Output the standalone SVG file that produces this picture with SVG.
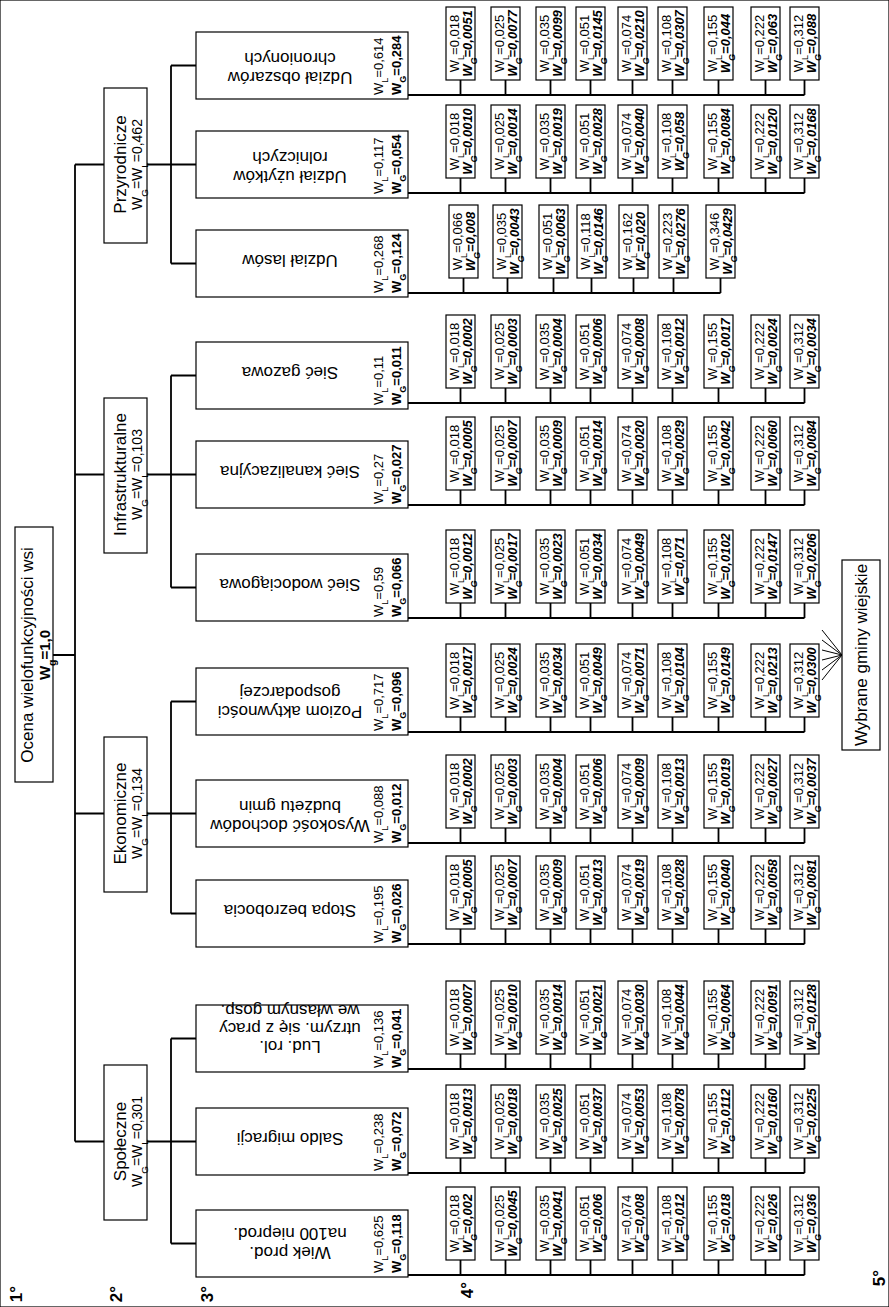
<svg xmlns="http://www.w3.org/2000/svg" width="889" height="1307" viewBox="0 0 889 1307">
<style>
text{font-family:"Liberation Sans",Arial,sans-serif;fill:#000}
rect{fill:#fff;stroke:#000;stroke-width:1.2}
.n4 text{font-size:13px;text-anchor:middle}
.g{font-weight:bold;font-style:italic}
.b{font-weight:bold}
.s{font-size:70%;baseline-shift:sub}
.l3{font-size:17px;text-anchor:middle}
.w3{font-size:13px}
.l2{font-size:17px;text-anchor:middle}
.w2{font-size:14px;text-anchor:middle}
.lv{font-size:17px;font-weight:bold;text-anchor:middle}
#conn path{fill:none;stroke:#000;stroke-width:1.8}
#fan path{fill:none;stroke:#000;stroke-width:1}
</style>
<rect width="889" height="1307" fill="#fff" stroke="none"/>

<g id="conn">
<path d="M53,655 H75 M75,164.5 V1141.5 M75,164.5 H104 M75,474.5 H104 M75,813.5 H104 M75,1141.5 H104"/>
<path d="M147,164.5 H171 M171,65.5 V263.5 M171,65.5 H196 M171,164.5 H196 M171,263.5 H196"/>
<path d="M147,474.5 H171 M171,375.5 V587.5 M171,375.5 H196 M171,474.5 H196 M171,587.5 H196"/>
<path d="M147,813.5 H171 M171,701.5 V913.5 M171,701.5 H196 M171,813.5 H196 M171,913.5 H196"/>
<path d="M147,1141.5 H171 M171,1038.5 V1243.5 M171,1038.5 H196 M171,1141.5 H196 M171,1243.5 H196"/>
<path d="M408,95 H804.5 M460.5,80 V95 M505.5,80 V95 M550.5,80 V95 M590.5,80 V95 M632.5,80 V95 M672.5,80 V95 M718.5,80 V95 M765.5,80 V95 M804.5,80 V95"/>
<path d="M408,193 H804.5 M460.5,178 V193 M505.5,178 V193 M550.5,178 V193 M590.5,178 V193 M632.5,178 V193 M672.5,178 V193 M718.5,178 V193 M765.5,178 V193 M804.5,178 V193"/>
<path d="M408,293 H720.5 M463.5,278 V293 M507.5,278 V293 M553.5,278 V293 M591.5,278 V293 M633.5,278 V293 M673.5,278 V293 M720.5,278 V293"/>
<path d="M408,403 H804.5 M460.5,388 V403 M505.5,388 V403 M550.5,388 V403 M590.5,388 V403 M632.5,388 V403 M672.5,388 V403 M718.5,388 V403 M765.5,388 V403 M804.5,388 V403"/>
<path d="M408,505 H804.5 M460.5,490 V505 M505.5,490 V505 M550.5,490 V505 M590.5,490 V505 M632.5,490 V505 M672.5,490 V505 M718.5,490 V505 M765.5,490 V505 M804.5,490 V505"/>
<path d="M408,618 H804.5 M460.5,603 V618 M505.5,603 V618 M550.5,603 V618 M590.5,603 V618 M632.5,603 V618 M672.5,603 V618 M718.5,603 V618 M765.5,603 V618 M804.5,603 V618"/>
<path d="M408,732 H804.5 M460.5,717 V732 M505.5,717 V732 M550.5,717 V732 M590.5,717 V732 M632.5,717 V732 M672.5,717 V732 M718.5,717 V732 M765.5,717 V732 M804.5,717 V732"/>
<path d="M408,843 H804.5 M460.5,828 V843 M505.5,828 V843 M550.5,828 V843 M590.5,828 V843 M632.5,828 V843 M672.5,828 V843 M718.5,828 V843 M765.5,828 V843 M804.5,828 V843"/>
<path d="M408,944 H804.5 M460.5,929 V944 M505.5,929 V944 M550.5,929 V944 M590.5,929 V944 M632.5,929 V944 M672.5,929 V944 M718.5,929 V944 M765.5,929 V944 M804.5,929 V944"/>
<path d="M408,1069 H804.5 M460.5,1054 V1069 M505.5,1054 V1069 M550.5,1054 V1069 M590.5,1054 V1069 M632.5,1054 V1069 M672.5,1054 V1069 M718.5,1054 V1069 M765.5,1054 V1069 M804.5,1054 V1069"/>
<path d="M408,1173 H804.5 M460.5,1158 V1173 M505.5,1158 V1173 M550.5,1158 V1173 M590.5,1158 V1173 M632.5,1158 V1173 M672.5,1158 V1173 M718.5,1158 V1173 M765.5,1158 V1173 M804.5,1158 V1173"/>
<path d="M408,1275 H804.5 M460.5,1260 V1275 M505.5,1260 V1275 M550.5,1260 V1275 M590.5,1260 V1275 M632.5,1260 V1275 M672.5,1260 V1275 M718.5,1260 V1275 M765.5,1260 V1275 M804.5,1260 V1275"/>
</g>

<g id="fan">
<path d="M822,630 L842,655 M822,640 L842,655 M822,650 L842,655 M822,660 L842,655 M822,670 L842,655 M822,680 L842,655"/>
</g>

<g id="n1">
<rect x="15" y="527" width="38" height="255"/>
<text class="l2" transform="translate(33,655) rotate(-90)">Ocena wielofunkcyjności wsi</text>
<text class="b" font-size="15" text-anchor="middle" transform="translate(50,655) rotate(-90)">W<tspan class="s">g</tspan>=1,0</text>
</g>

<g id="n2-p">
<rect x="104" y="88" width="43" height="155"/>
<text class="l2" transform="translate(126,164.5) rotate(-90)">Przyrodnicze</text>
<text class="w2" transform="translate(142,164.5) rotate(-90)">W<tspan class="s">G</tspan>=W<tspan class="s">L</tspan>=0,462</text>
</g>
<g id="n2-i">
<rect x="104" y="398" width="43" height="155"/>
<text class="l2" transform="translate(126,474.5) rotate(-90)">Infrastrukturalne</text>
<text class="w2" transform="translate(142,474.5) rotate(-90)">W<tspan class="s">G</tspan>=W<tspan class="s">L</tspan>=0,103</text>
</g>
<g id="n2-e">
<rect x="104" y="737" width="43" height="155"/>
<text class="l2" transform="translate(126,813.5) rotate(-90)">Ekonomiczne</text>
<text class="w2" transform="translate(142,813.5) rotate(-90)">W<tspan class="s">G</tspan>=W<tspan class="s">L</tspan>=0,134</text>
</g>
<g id="n2-s">
<rect x="104" y="1065" width="43" height="155"/>
<text class="l2" transform="translate(126,1141.5) rotate(-90)">Społeczne</text>
<text class="w2" transform="translate(142,1141.5) rotate(-90)">W<tspan class="s">G</tspan>=W<tspan class="s">L</tspan>=0,301</text>
</g>

<g id="n3-1">
<rect x="196" y="32" width="212" height="67"/>
<text class="l3" transform="rotate(180 290 65.5)"><tspan x="290" y="59">Udział obszarów</tspan><tspan x="290" y="78">chronionych</tspan></text>
<text class="w3" transform="translate(383,95) rotate(-90)">W<tspan class="s">L</tspan>=0,614</text>
<text class="w3 b" transform="translate(401,95) rotate(-90)">W<tspan class="s">G</tspan>=0,284</text>
</g>
<g id="n3-2">
<rect x="196" y="131" width="212" height="67"/>
<text class="l3" transform="rotate(180 290 164.5)"><tspan x="290" y="158">Udział użytków</tspan><tspan x="290" y="177">rolniczych</tspan></text>
<text class="w3" transform="translate(383,194) rotate(-90)">W<tspan class="s">L</tspan>=0,117</text>
<text class="w3 b" transform="translate(401,194) rotate(-90)">W<tspan class="s">G</tspan>=0,054</text>
</g>
<g id="n3-3">
<rect x="196" y="230" width="212" height="67"/>
<text class="l3" transform="rotate(180 290 263.5)"><tspan x="290" y="272.5">Udział lasów</tspan></text>
<text class="w3" transform="translate(383,293) rotate(-90)">W<tspan class="s">L</tspan>=0,268</text>
<text class="w3 b" transform="translate(401,293) rotate(-90)">W<tspan class="s">G</tspan>=0,124</text>
</g>
<g id="n3-4">
<rect x="196" y="342" width="212" height="67"/>
<text class="l3" transform="rotate(180 290 375.5)"><tspan x="290" y="384.5">Sieć gazowa</tspan></text>
<text class="w3" transform="translate(383,405) rotate(-90)">W<tspan class="s">L</tspan>=0,11</text>
<text class="w3 b" transform="translate(401,405) rotate(-90)">W<tspan class="s">G</tspan>=0,011</text>
</g>
<g id="n3-5">
<rect x="196" y="441" width="212" height="67"/>
<text class="l3" transform="rotate(180 290 474.5)"><tspan x="290" y="483.5">Sieć kanalizacyjna</tspan></text>
<text class="w3" transform="translate(383,504) rotate(-90)">W<tspan class="s">L</tspan>=0,27</text>
<text class="w3 b" transform="translate(401,504) rotate(-90)">W<tspan class="s">G</tspan>=0,027</text>
</g>
<g id="n3-6">
<rect x="196" y="554" width="212" height="67"/>
<text class="l3" transform="rotate(180 290 587.5)"><tspan x="290" y="596.5">Sieć wodociągowa</tspan></text>
<text class="w3" transform="translate(383,617) rotate(-90)">W<tspan class="s">L</tspan>=0,59</text>
<text class="w3 b" transform="translate(401,617) rotate(-90)">W<tspan class="s">G</tspan>=0,066</text>
</g>
<g id="n3-7">
<rect x="196" y="668" width="212" height="67"/>
<text class="l3" transform="rotate(180 290 701.5)"><tspan x="290" y="697">Poziom aktywności</tspan><tspan x="290" y="716">gospodarczej</tspan></text>
<text class="w3" transform="translate(383,731) rotate(-90)">W<tspan class="s">L</tspan>=0,717</text>
<text class="w3 b" transform="translate(401,731) rotate(-90)">W<tspan class="s">G</tspan>=0,096</text>
</g>
<g id="n3-8">
<rect x="196" y="780" width="212" height="67"/>
<text class="l3" transform="rotate(180 290 813.5)"><tspan x="290" y="807">Wysokość dochodów</tspan><tspan x="290" y="826">budżetu gmin</tspan></text>
<text class="w3" transform="translate(383,843) rotate(-90)">W<tspan class="s">L</tspan>=0,088</text>
<text class="w3 b" transform="translate(401,843) rotate(-90)">W<tspan class="s">G</tspan>=0,012</text>
</g>
<g id="n3-9">
<rect x="196" y="880" width="212" height="67"/>
<text class="l3" transform="rotate(180 290 913.5)"><tspan x="290" y="922.5">Stopa bezrobocia</tspan></text>
<text class="w3" transform="translate(383,943) rotate(-90)">W<tspan class="s">L</tspan>=0,195</text>
<text class="w3 b" transform="translate(401,943) rotate(-90)">W<tspan class="s">G</tspan>=0,026</text>
</g>
<g id="n3-10">
<rect x="196" y="1005" width="212" height="67"/>
<text class="l3" transform="rotate(180 290 1038.5)"><tspan x="290" y="1036">Lud. rol.</tspan><tspan x="290" y="1054">utrzym. się z pracy</tspan><tspan x="290" y="1072">we własnym gosp.</tspan></text>
<text class="w3" transform="translate(383,1068) rotate(-90)">W<tspan class="s">L</tspan>=0,136</text>
<text class="w3 b" transform="translate(401,1068) rotate(-90)">W<tspan class="s">G</tspan>=0,041</text>
</g>
<g id="n3-11">
<rect x="196" y="1108" width="212" height="67"/>
<text class="l3" transform="rotate(180 290 1141.5)"><tspan x="290" y="1150.5">Saldo migracji</tspan></text>
<text class="w3" transform="translate(383,1171) rotate(-90)">W<tspan class="s">L</tspan>=0,238</text>
<text class="w3 b" transform="translate(401,1171) rotate(-90)">W<tspan class="s">G</tspan>=0,072</text>
</g>
<g id="n3-12">
<rect x="196" y="1210" width="212" height="67"/>
<text class="l3" transform="rotate(180 290 1243.5)"><tspan x="290" y="1240">Wiek prod.</tspan><tspan x="290" y="1259">na100 nieprod.</tspan></text>
<text class="w3" transform="translate(383,1273) rotate(-90)">W<tspan class="s">L</tspan>=0,625</text>
<text class="w3 b" transform="translate(401,1273) rotate(-90)">W<tspan class="s">G</tspan>=0,118</text>
</g>

<g id="n4-1-1" class="n4" transform="translate(446,80) rotate(-90)"><rect width="73" height="29"/><text x="36.5" y="12.5">W<tspan class="s">L</tspan>=0,018</text><text class="g" x="36.5" y="25.5">W<tspan class="s">G</tspan>=0,0051</text></g>
<g id="n4-1-2" class="n4" transform="translate(491,80) rotate(-90)"><rect width="73" height="29"/><text x="36.5" y="12.5">W<tspan class="s">L</tspan>=0,025</text><text class="g" x="36.5" y="25.5">W<tspan class="s">G</tspan>=0,0077</text></g>
<g id="n4-1-3" class="n4" transform="translate(536,80) rotate(-90)"><rect width="73" height="29"/><text x="36.5" y="12.5">W<tspan class="s">L</tspan>=0,035</text><text class="g" x="36.5" y="25.5">W<tspan class="s">G</tspan>=0,0099</text></g>
<g id="n4-1-4" class="n4" transform="translate(576,80) rotate(-90)"><rect width="73" height="29"/><text x="36.5" y="12.5">W<tspan class="s">L</tspan>=0,051</text><text class="g" x="36.5" y="25.5">W<tspan class="s">G</tspan>=0,0145</text></g>
<g id="n4-1-5" class="n4" transform="translate(618,80) rotate(-90)"><rect width="73" height="29"/><text x="36.5" y="12.5">W<tspan class="s">L</tspan>=0,074</text><text class="g" x="36.5" y="25.5">W<tspan class="s">G</tspan>=0,0210</text></g>
<g id="n4-1-6" class="n4" transform="translate(658,80) rotate(-90)"><rect width="73" height="29"/><text x="36.5" y="12.5">W<tspan class="s">L</tspan>=0,108</text><text class="g" x="36.5" y="25.5">W<tspan class="s">G</tspan>=0,0307</text></g>
<g id="n4-1-7" class="n4" transform="translate(704,80) rotate(-90)"><rect width="73" height="29"/><text x="36.5" y="12.5">W<tspan class="s">L</tspan>=0,155</text><text class="g" x="36.5" y="25.5">W<tspan class="s">G</tspan>=0,044</text></g>
<g id="n4-1-8" class="n4" transform="translate(751,80) rotate(-90)"><rect width="73" height="29"/><text x="36.5" y="12.5">W<tspan class="s">L</tspan>=0,222</text><text class="g" x="36.5" y="25.5">W<tspan class="s">G</tspan>=0,063</text></g>
<g id="n4-1-9" class="n4" transform="translate(790,80) rotate(-90)"><rect width="73" height="29"/><text x="36.5" y="12.5">W<tspan class="s">L</tspan>=0,312</text><text class="g" x="36.5" y="25.5">W<tspan class="s">G</tspan>=0,088</text></g>

<g id="n4-2-1" class="n4" transform="translate(446,178) rotate(-90)"><rect width="73" height="29"/><text x="36.5" y="12.5">W<tspan class="s">L</tspan>=0,018</text><text class="g" x="36.5" y="25.5">W<tspan class="s">G</tspan>=0,0010</text></g>
<g id="n4-2-2" class="n4" transform="translate(491,178) rotate(-90)"><rect width="73" height="29"/><text x="36.5" y="12.5">W<tspan class="s">L</tspan>=0,025</text><text class="g" x="36.5" y="25.5">W<tspan class="s">G</tspan>=0,0014</text></g>
<g id="n4-2-3" class="n4" transform="translate(536,178) rotate(-90)"><rect width="73" height="29"/><text x="36.5" y="12.5">W<tspan class="s">L</tspan>=0,035</text><text class="g" x="36.5" y="25.5">W<tspan class="s">G</tspan>=0,0019</text></g>
<g id="n4-2-4" class="n4" transform="translate(576,178) rotate(-90)"><rect width="73" height="29"/><text x="36.5" y="12.5">W<tspan class="s">L</tspan>=0,051</text><text class="g" x="36.5" y="25.5">W<tspan class="s">G</tspan>=0,0028</text></g>
<g id="n4-2-5" class="n4" transform="translate(618,178) rotate(-90)"><rect width="73" height="29"/><text x="36.5" y="12.5">W<tspan class="s">L</tspan>=0,074</text><text class="g" x="36.5" y="25.5">W<tspan class="s">G</tspan>=0,0040</text></g>
<g id="n4-2-6" class="n4" transform="translate(658,178) rotate(-90)"><rect width="73" height="29"/><text x="36.5" y="12.5">W<tspan class="s">L</tspan>=0,108</text><text class="g" x="36.5" y="25.5">W<tspan class="s">G</tspan>=0,058</text></g>
<g id="n4-2-7" class="n4" transform="translate(704,178) rotate(-90)"><rect width="73" height="29"/><text x="36.5" y="12.5">W<tspan class="s">L</tspan>=0,155</text><text class="g" x="36.5" y="25.5">W<tspan class="s">G</tspan>=0,0084</text></g>
<g id="n4-2-8" class="n4" transform="translate(751,178) rotate(-90)"><rect width="73" height="29"/><text x="36.5" y="12.5">W<tspan class="s">L</tspan>=0,222</text><text class="g" x="36.5" y="25.5">W<tspan class="s">G</tspan>=0,0120</text></g>
<g id="n4-2-9" class="n4" transform="translate(790,178) rotate(-90)"><rect width="73" height="29"/><text x="36.5" y="12.5">W<tspan class="s">L</tspan>=0,312</text><text class="g" x="36.5" y="25.5">W<tspan class="s">G</tspan>=0,0168</text></g>

<g id="n4-3-1" class="n4" transform="translate(449,278) rotate(-90)"><rect width="73" height="29"/><text x="36.5" y="12.5">W<tspan class="s">L</tspan>=0,066</text><text class="g" x="36.5" y="25.5">W<tspan class="s">G</tspan>=0,008</text></g>
<g id="n4-3-2" class="n4" transform="translate(493,278) rotate(-90)"><rect width="73" height="29"/><text x="36.5" y="12.5">W<tspan class="s">L</tspan>=0,035</text><text class="g" x="36.5" y="25.5">W<tspan class="s">G</tspan>=0,0043</text></g>
<g id="n4-3-3" class="n4" transform="translate(539,278) rotate(-90)"><rect width="73" height="29"/><text x="36.5" y="12.5">W<tspan class="s">L</tspan>=0,051</text><text class="g" x="36.5" y="25.5">W<tspan class="s">G</tspan>=0,0063</text></g>
<g id="n4-3-4" class="n4" transform="translate(577,278) rotate(-90)"><rect width="73" height="29"/><text x="36.5" y="12.5">W<tspan class="s">L</tspan>=0,118</text><text class="g" x="36.5" y="25.5">W<tspan class="s">G</tspan>=0,0146</text></g>
<g id="n4-3-5" class="n4" transform="translate(619,278) rotate(-90)"><rect width="73" height="29"/><text x="36.5" y="12.5">W<tspan class="s">L</tspan>=0,162</text><text class="g" x="36.5" y="25.5">W<tspan class="s">G</tspan>=0,020</text></g>
<g id="n4-3-6" class="n4" transform="translate(659,278) rotate(-90)"><rect width="73" height="29"/><text x="36.5" y="12.5">W<tspan class="s">L</tspan>=0,223</text><text class="g" x="36.5" y="25.5">W<tspan class="s">G</tspan>=0,0276</text></g>
<g id="n4-3-7" class="n4" transform="translate(706,278) rotate(-90)"><rect width="73" height="29"/><text x="36.5" y="12.5">W<tspan class="s">L</tspan>=0,346</text><text class="g" x="36.5" y="25.5">W<tspan class="s">G</tspan>=0,0429</text></g>

<g id="n4-4-1" class="n4" transform="translate(446,388) rotate(-90)"><rect width="73" height="29"/><text x="36.5" y="12.5">W<tspan class="s">L</tspan>=0,018</text><text class="g" x="36.5" y="25.5">W<tspan class="s">G</tspan>=0,0002</text></g>
<g id="n4-4-2" class="n4" transform="translate(491,388) rotate(-90)"><rect width="73" height="29"/><text x="36.5" y="12.5">W<tspan class="s">L</tspan>=0,025</text><text class="g" x="36.5" y="25.5">W<tspan class="s">G</tspan>=0,0003</text></g>
<g id="n4-4-3" class="n4" transform="translate(536,388) rotate(-90)"><rect width="73" height="29"/><text x="36.5" y="12.5">W<tspan class="s">L</tspan>=0,035</text><text class="g" x="36.5" y="25.5">W<tspan class="s">G</tspan>=0,0004</text></g>
<g id="n4-4-4" class="n4" transform="translate(576,388) rotate(-90)"><rect width="73" height="29"/><text x="36.5" y="12.5">W<tspan class="s">L</tspan>=0,051</text><text class="g" x="36.5" y="25.5">W<tspan class="s">G</tspan>=0,0006</text></g>
<g id="n4-4-5" class="n4" transform="translate(618,388) rotate(-90)"><rect width="73" height="29"/><text x="36.5" y="12.5">W<tspan class="s">L</tspan>=0,074</text><text class="g" x="36.5" y="25.5">W<tspan class="s">G</tspan>=0,0008</text></g>
<g id="n4-4-6" class="n4" transform="translate(658,388) rotate(-90)"><rect width="73" height="29"/><text x="36.5" y="12.5">W<tspan class="s">L</tspan>=0,108</text><text class="g" x="36.5" y="25.5">W<tspan class="s">G</tspan>=0,0012</text></g>
<g id="n4-4-7" class="n4" transform="translate(704,388) rotate(-90)"><rect width="73" height="29"/><text x="36.5" y="12.5">W<tspan class="s">L</tspan>=0,155</text><text class="g" x="36.5" y="25.5">W<tspan class="s">G</tspan>=0,0017</text></g>
<g id="n4-4-8" class="n4" transform="translate(751,388) rotate(-90)"><rect width="73" height="29"/><text x="36.5" y="12.5">W<tspan class="s">L</tspan>=0,222</text><text class="g" x="36.5" y="25.5">W<tspan class="s">G</tspan>=0,0024</text></g>
<g id="n4-4-9" class="n4" transform="translate(790,388) rotate(-90)"><rect width="73" height="29"/><text x="36.5" y="12.5">W<tspan class="s">L</tspan>=0,312</text><text class="g" x="36.5" y="25.5">W<tspan class="s">G</tspan>=0,0034</text></g>

<g id="n4-5-1" class="n4" transform="translate(446,490) rotate(-90)"><rect width="73" height="29"/><text x="36.5" y="12.5">W<tspan class="s">L</tspan>=0,018</text><text class="g" x="36.5" y="25.5">W<tspan class="s">G</tspan>=0,0005</text></g>
<g id="n4-5-2" class="n4" transform="translate(491,490) rotate(-90)"><rect width="73" height="29"/><text x="36.5" y="12.5">W<tspan class="s">L</tspan>=0,025</text><text class="g" x="36.5" y="25.5">W<tspan class="s">G</tspan>=0,0007</text></g>
<g id="n4-5-3" class="n4" transform="translate(536,490) rotate(-90)"><rect width="73" height="29"/><text x="36.5" y="12.5">W<tspan class="s">L</tspan>=0,035</text><text class="g" x="36.5" y="25.5">W<tspan class="s">G</tspan>=0,0009</text></g>
<g id="n4-5-4" class="n4" transform="translate(576,490) rotate(-90)"><rect width="73" height="29"/><text x="36.5" y="12.5">W<tspan class="s">L</tspan>=0,051</text><text class="g" x="36.5" y="25.5">W<tspan class="s">G</tspan>=0,0014</text></g>
<g id="n4-5-5" class="n4" transform="translate(618,490) rotate(-90)"><rect width="73" height="29"/><text x="36.5" y="12.5">W<tspan class="s">L</tspan>=0,074</text><text class="g" x="36.5" y="25.5">W<tspan class="s">G</tspan>=0,0020</text></g>
<g id="n4-5-6" class="n4" transform="translate(658,490) rotate(-90)"><rect width="73" height="29"/><text x="36.5" y="12.5">W<tspan class="s">L</tspan>=0,108</text><text class="g" x="36.5" y="25.5">W<tspan class="s">G</tspan>=0,0029</text></g>
<g id="n4-5-7" class="n4" transform="translate(704,490) rotate(-90)"><rect width="73" height="29"/><text x="36.5" y="12.5">W<tspan class="s">L</tspan>=0,155</text><text class="g" x="36.5" y="25.5">W<tspan class="s">G</tspan>=0,0042</text></g>
<g id="n4-5-8" class="n4" transform="translate(751,490) rotate(-90)"><rect width="73" height="29"/><text x="36.5" y="12.5">W<tspan class="s">L</tspan>=0,222</text><text class="g" x="36.5" y="25.5">W<tspan class="s">G</tspan>=0,0060</text></g>
<g id="n4-5-9" class="n4" transform="translate(790,490) rotate(-90)"><rect width="73" height="29"/><text x="36.5" y="12.5">W<tspan class="s">L</tspan>=0,312</text><text class="g" x="36.5" y="25.5">W<tspan class="s">G</tspan>=0,0084</text></g>

<g id="n4-6-1" class="n4" transform="translate(446,603) rotate(-90)"><rect width="73" height="29"/><text x="36.5" y="12.5">W<tspan class="s">L</tspan>=0,018</text><text class="g" x="36.5" y="25.5">W<tspan class="s">G</tspan>=0,0012</text></g>
<g id="n4-6-2" class="n4" transform="translate(491,603) rotate(-90)"><rect width="73" height="29"/><text x="36.5" y="12.5">W<tspan class="s">L</tspan>=0,025</text><text class="g" x="36.5" y="25.5">W<tspan class="s">G</tspan>=0,0017</text></g>
<g id="n4-6-3" class="n4" transform="translate(536,603) rotate(-90)"><rect width="73" height="29"/><text x="36.5" y="12.5">W<tspan class="s">L</tspan>=0,035</text><text class="g" x="36.5" y="25.5">W<tspan class="s">G</tspan>=0,0023</text></g>
<g id="n4-6-4" class="n4" transform="translate(576,603) rotate(-90)"><rect width="73" height="29"/><text x="36.5" y="12.5">W<tspan class="s">L</tspan>=0,051</text><text class="g" x="36.5" y="25.5">W<tspan class="s">G</tspan>=0,0034</text></g>
<g id="n4-6-5" class="n4" transform="translate(618,603) rotate(-90)"><rect width="73" height="29"/><text x="36.5" y="12.5">W<tspan class="s">L</tspan>=0,074</text><text class="g" x="36.5" y="25.5">W<tspan class="s">G</tspan>=0,0049</text></g>
<g id="n4-6-6" class="n4" transform="translate(658,603) rotate(-90)"><rect width="73" height="29"/><text x="36.5" y="12.5">W<tspan class="s">L</tspan>=0,108</text><text class="g" x="36.5" y="25.5">W<tspan class="s">G</tspan>=0,071</text></g>
<g id="n4-6-7" class="n4" transform="translate(704,603) rotate(-90)"><rect width="73" height="29"/><text x="36.5" y="12.5">W<tspan class="s">L</tspan>=0,155</text><text class="g" x="36.5" y="25.5">W<tspan class="s">G</tspan>=0,0102</text></g>
<g id="n4-6-8" class="n4" transform="translate(751,603) rotate(-90)"><rect width="73" height="29"/><text x="36.5" y="12.5">W<tspan class="s">L</tspan>=0,222</text><text class="g" x="36.5" y="25.5">W<tspan class="s">G</tspan>=0,0147</text></g>
<g id="n4-6-9" class="n4" transform="translate(790,603) rotate(-90)"><rect width="73" height="29"/><text x="36.5" y="12.5">W<tspan class="s">L</tspan>=0,312</text><text class="g" x="36.5" y="25.5">W<tspan class="s">G</tspan>=0,0206</text></g>

<g id="n4-7-1" class="n4" transform="translate(446,717) rotate(-90)"><rect width="73" height="29"/><text x="36.5" y="12.5">W<tspan class="s">L</tspan>=0,018</text><text class="g" x="36.5" y="25.5">W<tspan class="s">G</tspan>=0,0017</text></g>
<g id="n4-7-2" class="n4" transform="translate(491,717) rotate(-90)"><rect width="73" height="29"/><text x="36.5" y="12.5">W<tspan class="s">L</tspan>=0,025</text><text class="g" x="36.5" y="25.5">W<tspan class="s">G</tspan>=0,0024</text></g>
<g id="n4-7-3" class="n4" transform="translate(536,717) rotate(-90)"><rect width="73" height="29"/><text x="36.5" y="12.5">W<tspan class="s">L</tspan>=0,035</text><text class="g" x="36.5" y="25.5">W<tspan class="s">G</tspan>=0,0034</text></g>
<g id="n4-7-4" class="n4" transform="translate(576,717) rotate(-90)"><rect width="73" height="29"/><text x="36.5" y="12.5">W<tspan class="s">L</tspan>=0,051</text><text class="g" x="36.5" y="25.5">W<tspan class="s">G</tspan>=0,0049</text></g>
<g id="n4-7-5" class="n4" transform="translate(618,717) rotate(-90)"><rect width="73" height="29"/><text x="36.5" y="12.5">W<tspan class="s">L</tspan>=0,074</text><text class="g" x="36.5" y="25.5">W<tspan class="s">G</tspan>=0,0071</text></g>
<g id="n4-7-6" class="n4" transform="translate(658,717) rotate(-90)"><rect width="73" height="29"/><text x="36.5" y="12.5">W<tspan class="s">L</tspan>=0,108</text><text class="g" x="36.5" y="25.5">W<tspan class="s">G</tspan>=0,0104</text></g>
<g id="n4-7-7" class="n4" transform="translate(704,717) rotate(-90)"><rect width="73" height="29"/><text x="36.5" y="12.5">W<tspan class="s">L</tspan>=0,155</text><text class="g" x="36.5" y="25.5">W<tspan class="s">G</tspan>=0,0149</text></g>
<g id="n4-7-8" class="n4" transform="translate(751,717) rotate(-90)"><rect width="73" height="29"/><text x="36.5" y="12.5">W<tspan class="s">L</tspan>=0,222</text><text class="g" x="36.5" y="25.5">W<tspan class="s">G</tspan>=0,0213</text></g>
<g id="n4-7-9" class="n4" transform="translate(790,717) rotate(-90)"><rect width="73" height="29"/><text x="36.5" y="12.5">W<tspan class="s">L</tspan>=0,312</text><text class="g" x="36.5" y="25.5">W<tspan class="s">G</tspan>=0,0300</text></g>

<g id="n4-8-1" class="n4" transform="translate(446,828) rotate(-90)"><rect width="73" height="29"/><text x="36.5" y="12.5">W<tspan class="s">L</tspan>=0,018</text><text class="g" x="36.5" y="25.5">W<tspan class="s">G</tspan>=0,0002</text></g>
<g id="n4-8-2" class="n4" transform="translate(491,828) rotate(-90)"><rect width="73" height="29"/><text x="36.5" y="12.5">W<tspan class="s">L</tspan>=0,025</text><text class="g" x="36.5" y="25.5">W<tspan class="s">G</tspan>=0,0003</text></g>
<g id="n4-8-3" class="n4" transform="translate(536,828) rotate(-90)"><rect width="73" height="29"/><text x="36.5" y="12.5">W<tspan class="s">L</tspan>=0,035</text><text class="g" x="36.5" y="25.5">W<tspan class="s">G</tspan>=0,0004</text></g>
<g id="n4-8-4" class="n4" transform="translate(576,828) rotate(-90)"><rect width="73" height="29"/><text x="36.5" y="12.5">W<tspan class="s">L</tspan>=0,051</text><text class="g" x="36.5" y="25.5">W<tspan class="s">G</tspan>=0,0006</text></g>
<g id="n4-8-5" class="n4" transform="translate(618,828) rotate(-90)"><rect width="73" height="29"/><text x="36.5" y="12.5">W<tspan class="s">L</tspan>=0,074</text><text class="g" x="36.5" y="25.5">W<tspan class="s">G</tspan>=0,0009</text></g>
<g id="n4-8-6" class="n4" transform="translate(658,828) rotate(-90)"><rect width="73" height="29"/><text x="36.5" y="12.5">W<tspan class="s">L</tspan>=0,108</text><text class="g" x="36.5" y="25.5">W<tspan class="s">G</tspan>=0,0013</text></g>
<g id="n4-8-7" class="n4" transform="translate(704,828) rotate(-90)"><rect width="73" height="29"/><text x="36.5" y="12.5">W<tspan class="s">L</tspan>=0,155</text><text class="g" x="36.5" y="25.5">W<tspan class="s">G</tspan>=0,0019</text></g>
<g id="n4-8-8" class="n4" transform="translate(751,828) rotate(-90)"><rect width="73" height="29"/><text x="36.5" y="12.5">W<tspan class="s">L</tspan>=0,222</text><text class="g" x="36.5" y="25.5">W<tspan class="s">G</tspan>=0,0027</text></g>
<g id="n4-8-9" class="n4" transform="translate(790,828) rotate(-90)"><rect width="73" height="29"/><text x="36.5" y="12.5">W<tspan class="s">L</tspan>=0,312</text><text class="g" x="36.5" y="25.5">W<tspan class="s">G</tspan>=0,0037</text></g>

<g id="n4-9-1" class="n4" transform="translate(446,929) rotate(-90)"><rect width="73" height="29"/><text x="36.5" y="12.5">W<tspan class="s">L</tspan>=0,018</text><text class="g" x="36.5" y="25.5">W<tspan class="s">G</tspan>=0,0005</text></g>
<g id="n4-9-2" class="n4" transform="translate(491,929) rotate(-90)"><rect width="73" height="29"/><text x="36.5" y="12.5">W<tspan class="s">L</tspan>=0,025</text><text class="g" x="36.5" y="25.5">W<tspan class="s">G</tspan>=0,0007</text></g>
<g id="n4-9-3" class="n4" transform="translate(536,929) rotate(-90)"><rect width="73" height="29"/><text x="36.5" y="12.5">W<tspan class="s">L</tspan>=0,035</text><text class="g" x="36.5" y="25.5">W<tspan class="s">G</tspan>=0,0009</text></g>
<g id="n4-9-4" class="n4" transform="translate(576,929) rotate(-90)"><rect width="73" height="29"/><text x="36.5" y="12.5">W<tspan class="s">L</tspan>=0,051</text><text class="g" x="36.5" y="25.5">W<tspan class="s">G</tspan>=0,0013</text></g>
<g id="n4-9-5" class="n4" transform="translate(618,929) rotate(-90)"><rect width="73" height="29"/><text x="36.5" y="12.5">W<tspan class="s">L</tspan>=0,074</text><text class="g" x="36.5" y="25.5">W<tspan class="s">G</tspan>=0,0019</text></g>
<g id="n4-9-6" class="n4" transform="translate(658,929) rotate(-90)"><rect width="73" height="29"/><text x="36.5" y="12.5">W<tspan class="s">L</tspan>=0,108</text><text class="g" x="36.5" y="25.5">W<tspan class="s">G</tspan>=0,0028</text></g>
<g id="n4-9-7" class="n4" transform="translate(704,929) rotate(-90)"><rect width="73" height="29"/><text x="36.5" y="12.5">W<tspan class="s">L</tspan>=0,155</text><text class="g" x="36.5" y="25.5">W<tspan class="s">G</tspan>=0,0040</text></g>
<g id="n4-9-8" class="n4" transform="translate(751,929) rotate(-90)"><rect width="73" height="29"/><text x="36.5" y="12.5">W<tspan class="s">L</tspan>=0,222</text><text class="g" x="36.5" y="25.5">W<tspan class="s">G</tspan>=0,0058</text></g>
<g id="n4-9-9" class="n4" transform="translate(790,929) rotate(-90)"><rect width="73" height="29"/><text x="36.5" y="12.5">W<tspan class="s">L</tspan>=0,312</text><text class="g" x="36.5" y="25.5">W<tspan class="s">G</tspan>=0,0081</text></g>

<g id="n4-10-1" class="n4" transform="translate(446,1054) rotate(-90)"><rect width="73" height="29"/><text x="36.5" y="12.5">W<tspan class="s">L</tspan>=0,018</text><text class="g" x="36.5" y="25.5">W<tspan class="s">G</tspan>=0,0007</text></g>
<g id="n4-10-2" class="n4" transform="translate(491,1054) rotate(-90)"><rect width="73" height="29"/><text x="36.5" y="12.5">W<tspan class="s">L</tspan>=0,025</text><text class="g" x="36.5" y="25.5">W<tspan class="s">G</tspan>=0,0010</text></g>
<g id="n4-10-3" class="n4" transform="translate(536,1054) rotate(-90)"><rect width="73" height="29"/><text x="36.5" y="12.5">W<tspan class="s">L</tspan>=0,035</text><text class="g" x="36.5" y="25.5">W<tspan class="s">G</tspan>=0,0014</text></g>
<g id="n4-10-4" class="n4" transform="translate(576,1054) rotate(-90)"><rect width="73" height="29"/><text x="36.5" y="12.5">W<tspan class="s">L</tspan>=0,051</text><text class="g" x="36.5" y="25.5">W<tspan class="s">G</tspan>=0,0021</text></g>
<g id="n4-10-5" class="n4" transform="translate(618,1054) rotate(-90)"><rect width="73" height="29"/><text x="36.5" y="12.5">W<tspan class="s">L</tspan>=0,074</text><text class="g" x="36.5" y="25.5">W<tspan class="s">G</tspan>=0,0030</text></g>
<g id="n4-10-6" class="n4" transform="translate(658,1054) rotate(-90)"><rect width="73" height="29"/><text x="36.5" y="12.5">W<tspan class="s">L</tspan>=0,108</text><text class="g" x="36.5" y="25.5">W<tspan class="s">G</tspan>=0,0044</text></g>
<g id="n4-10-7" class="n4" transform="translate(704,1054) rotate(-90)"><rect width="73" height="29"/><text x="36.5" y="12.5">W<tspan class="s">L</tspan>=0,155</text><text class="g" x="36.5" y="25.5">W<tspan class="s">G</tspan>=0,0064</text></g>
<g id="n4-10-8" class="n4" transform="translate(751,1054) rotate(-90)"><rect width="73" height="29"/><text x="36.5" y="12.5">W<tspan class="s">L</tspan>=0,222</text><text class="g" x="36.5" y="25.5">W<tspan class="s">G</tspan>=0,0091</text></g>
<g id="n4-10-9" class="n4" transform="translate(790,1054) rotate(-90)"><rect width="73" height="29"/><text x="36.5" y="12.5">W<tspan class="s">L</tspan>=0,312</text><text class="g" x="36.5" y="25.5">W<tspan class="s">G</tspan>=0,0128</text></g>

<g id="n4-11-1" class="n4" transform="translate(446,1158) rotate(-90)"><rect width="73" height="29"/><text x="36.5" y="12.5">W<tspan class="s">L</tspan>=0,018</text><text class="g" x="36.5" y="25.5">W<tspan class="s">G</tspan>=0,0013</text></g>
<g id="n4-11-2" class="n4" transform="translate(491,1158) rotate(-90)"><rect width="73" height="29"/><text x="36.5" y="12.5">W<tspan class="s">L</tspan>=0,025</text><text class="g" x="36.5" y="25.5">W<tspan class="s">G</tspan>=0,0018</text></g>
<g id="n4-11-3" class="n4" transform="translate(536,1158) rotate(-90)"><rect width="73" height="29"/><text x="36.5" y="12.5">W<tspan class="s">L</tspan>=0,035</text><text class="g" x="36.5" y="25.5">W<tspan class="s">G</tspan>=0,0025</text></g>
<g id="n4-11-4" class="n4" transform="translate(576,1158) rotate(-90)"><rect width="73" height="29"/><text x="36.5" y="12.5">W<tspan class="s">L</tspan>=0,051</text><text class="g" x="36.5" y="25.5">W<tspan class="s">G</tspan>=0,0037</text></g>
<g id="n4-11-5" class="n4" transform="translate(618,1158) rotate(-90)"><rect width="73" height="29"/><text x="36.5" y="12.5">W<tspan class="s">L</tspan>=0,074</text><text class="g" x="36.5" y="25.5">W<tspan class="s">G</tspan>=0,0053</text></g>
<g id="n4-11-6" class="n4" transform="translate(658,1158) rotate(-90)"><rect width="73" height="29"/><text x="36.5" y="12.5">W<tspan class="s">L</tspan>=0,108</text><text class="g" x="36.5" y="25.5">W<tspan class="s">G</tspan>=0,0078</text></g>
<g id="n4-11-7" class="n4" transform="translate(704,1158) rotate(-90)"><rect width="73" height="29"/><text x="36.5" y="12.5">W<tspan class="s">L</tspan>=0,155</text><text class="g" x="36.5" y="25.5">W<tspan class="s">G</tspan>=0,0112</text></g>
<g id="n4-11-8" class="n4" transform="translate(751,1158) rotate(-90)"><rect width="73" height="29"/><text x="36.5" y="12.5">W<tspan class="s">L</tspan>=0,222</text><text class="g" x="36.5" y="25.5">W<tspan class="s">G</tspan>=0,0160</text></g>
<g id="n4-11-9" class="n4" transform="translate(790,1158) rotate(-90)"><rect width="73" height="29"/><text x="36.5" y="12.5">W<tspan class="s">L</tspan>=0,312</text><text class="g" x="36.5" y="25.5">W<tspan class="s">G</tspan>=0,0225</text></g>

<g id="n4-12-1" class="n4" transform="translate(446,1260) rotate(-90)"><rect width="73" height="29"/><text x="36.5" y="12.5">W<tspan class="s">L</tspan>=0,018</text><text class="g" x="36.5" y="25.5">W<tspan class="s">G</tspan>=0,002</text></g>
<g id="n4-12-2" class="n4" transform="translate(491,1260) rotate(-90)"><rect width="73" height="29"/><text x="36.5" y="12.5">W<tspan class="s">L</tspan>=0,025</text><text class="g" x="36.5" y="25.5">W<tspan class="s">G</tspan>=0,0045</text></g>
<g id="n4-12-3" class="n4" transform="translate(536,1260) rotate(-90)"><rect width="73" height="29"/><text x="36.5" y="12.5">W<tspan class="s">L</tspan>=0,035</text><text class="g" x="36.5" y="25.5">W<tspan class="s">G</tspan>=0,0041</text></g>
<g id="n4-12-4" class="n4" transform="translate(576,1260) rotate(-90)"><rect width="73" height="29"/><text x="36.5" y="12.5">W<tspan class="s">L</tspan>=0,051</text><text class="g" x="36.5" y="25.5">W<tspan class="s">G</tspan>=0,006</text></g>
<g id="n4-12-5" class="n4" transform="translate(618,1260) rotate(-90)"><rect width="73" height="29"/><text x="36.5" y="12.5">W<tspan class="s">L</tspan>=0,074</text><text class="g" x="36.5" y="25.5">W<tspan class="s">G</tspan>=0,008</text></g>
<g id="n4-12-6" class="n4" transform="translate(658,1260) rotate(-90)"><rect width="73" height="29"/><text x="36.5" y="12.5">W<tspan class="s">L</tspan>=0,108</text><text class="g" x="36.5" y="25.5">W<tspan class="s">G</tspan>=0,012</text></g>
<g id="n4-12-7" class="n4" transform="translate(704,1260) rotate(-90)"><rect width="73" height="29"/><text x="36.5" y="12.5">W<tspan class="s">L</tspan>=0,155</text><text class="g" x="36.5" y="25.5">W<tspan class="s">G</tspan>=0,018</text></g>
<g id="n4-12-8" class="n4" transform="translate(751,1260) rotate(-90)"><rect width="73" height="29"/><text x="36.5" y="12.5">W<tspan class="s">L</tspan>=0,222</text><text class="g" x="36.5" y="25.5">W<tspan class="s">G</tspan>=0,026</text></g>
<g id="n4-12-9" class="n4" transform="translate(790,1260) rotate(-90)"><rect width="73" height="29"/><text x="36.5" y="12.5">W<tspan class="s">L</tspan>=0,312</text><text class="g" x="36.5" y="25.5">W<tspan class="s">G</tspan>=0,036</text></g>

<g id="n5">
<rect x="842" y="560" width="38" height="190"/>
<text class="l2" transform="translate(867,655) rotate(-90)">Wybrane gminy wiejskie</text>
</g>

<g id="levels">
<text class="lv" transform="translate(22,1294) rotate(-90)">1°</text>
<text class="lv" transform="translate(122,1294) rotate(-90)">2°</text>
<text class="lv" transform="translate(213,1294) rotate(-90)">3°</text>
<text class="lv" transform="translate(473,1290) rotate(-90)">4°</text>
<text class="lv" transform="translate(885,1278) rotate(-90)">5°</text>
</g>
</svg>
